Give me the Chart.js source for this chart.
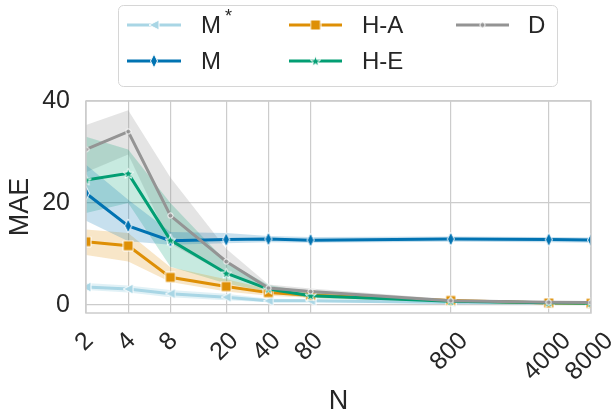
<!DOCTYPE html>
<html>
<head>
<meta charset="utf-8">
<script src="https://cdn.jsdelivr.net/npm/chart.js@4.4.1/dist/chart.umd.min.js"></script>
<style>
  html, body { margin: 0; padding: 0; background: #fff; }
  #wrap { width: 614px; height: 417px; }
</style>
</head>
<body>
<div id="wrap"><canvas id="maeChart" width="614" height="417"></canvas></div>
<script>
// sample sizes (x axis, log scale)
const nValues = [2, 4, 8, 20, 40, 80, 800, 4000, 8000];
const nLabels = ['2', '4', '8', '20', '40', '80', '800', '4000', '8000'];
const yTicks = [0, 20, 40];

// mean MAE per method and its confidence band
const mStarMean = [3.5, 3.1, 2.2, 1.5, 0.8, 0.8, 0.45, 0.35, 0.35];
const mStarLow  = [2.9, 2.4, 1.5, 0.9, 0.5, 0.5, 0.3, 0.25, 0.25];
const mStarHigh = [4.3, 3.8, 2.9, 2.2, 1.2, 1.1, 0.6, 0.5, 0.5];

const mMean = [21.9, 15.5, 12.6, 12.8, 12.9, 12.7, 12.9, 12.8, 12.7];
const mLow  = [16.5, 12.5, 11.8, 12.1, 12.3, 12.2, 12.4, 12.3, 12.2];
const mHigh = [27.5, 20.6, 14.3, 14.1, 13.5, 13.3, 13.4, 13.3, 13.2];

const haMean = [12.4, 11.6, 5.4, 3.6, 2.4, 1.9, 0.85, 0.35, 0.3];
const haLow  = [9.8, 8.5, 4.5, 2.6, 1.8, 1.4, 0.6, 0.2, 0.15];
const haHigh = [14.8, 14.1, 7.4, 5.0, 3.1, 2.4, 1.1, 0.5, 0.45];

const heMean = [24.5, 25.8, 12.7, 6.2, 3.1, 1.8, 0.7, 0.4, 0.3];
const heLow  = [18, 20, 7.5, 4.2, 2.5, 1.3, 0.4, 0.2, 0.1];
const heHigh = [33, 30.5, 20, 8.5, 3.9, 2.4, 1.0, 0.6, 0.5];

const dMean = [30.5, 34.0, 17.5, 8.5, 3.3, 2.6, 0.8, 0.5, 0.45];
const dLow  = [26, 29.5, 12, 6, 2.8, 2.0, 0.5, 0.3, 0.3];
const dHigh = [35.3, 38.2, 25, 11, 4.0, 3.2, 1.1, 0.7, 0.6];

const FONT = "'Liberation Sans', Arial, sans-serif";
const TEXT = '#262626';
const GRID = '#cccccc';

// marker images with white edge, like matplotlib markers
function makeMarker(kind, color) {
    const c = document.createElement('canvas');
    const g = c.getContext('2d');
    let w = 12, h = 12;
    if (kind === 'diamond') { w = 10; h = 16; }
    if (kind === 'circle') { w = 7; h = 7; }
    if (kind === 'star') { w = 13; h = 13; }
    c.width = w; c.height = h;
    g.beginPath();
    if (kind === 'triLeft') {
        g.moveTo(1, h / 2); g.lineTo(w - 1, 1); g.lineTo(w - 1, h - 1);
    } else if (kind === 'diamond') {
        g.moveTo(w / 2, 1); g.lineTo(w - 1.5, h / 2); g.lineTo(w / 2, h - 1); g.lineTo(1.5, h / 2);
    } else if (kind === 'square') {
        g.rect(1, 1, w - 2, h - 2);
    } else if (kind === 'circle') {
        g.arc(w / 2, h / 2, 2.6, 0, Math.PI * 2);
    } else if (kind === 'star') {
        const cx = w / 2, cy = h / 2 + 0.5, ro = 5.5, ri = 2.3;
        for (let k = 0; k < 10; k++) {
            const r = k % 2 === 0 ? ro : ri;
            const a = -Math.PI / 2 + k * Math.PI / 5;
            const px = cx + r * Math.cos(a), py = cy + r * Math.sin(a);
            if (k === 0) g.moveTo(px, py); else g.lineTo(px, py);
        }
    }
    g.closePath();
    g.fillStyle = color;
    g.fill();
    g.strokeStyle = '#ffffff';
    g.lineWidth = 1;
    g.stroke();
    return c;
}

const series = [
    { name: 'M*',  color: '#a9d6e5', band: 'rgba(169,214,229,0.35)', mean: mStarMean, low: mStarLow, high: mStarHigh, marker: 'triLeft', order: 4 },
    { name: 'M',   color: '#0173b2', band: 'rgba(1,115,178,0.22)',   mean: mMean,     low: mLow,     high: mHigh,     marker: 'diamond', order: 3 },
    { name: 'H-A', color: '#de8f05', band: 'rgba(222,143,5,0.22)',   mean: haMean,    low: haLow,    high: haHigh,    marker: 'square',  order: 2 },
    { name: 'H-E', color: '#029e73', band: 'rgba(2,158,115,0.22)',   mean: heMean,    low: heLow,    high: heHigh,    marker: 'star',    order: 1 },
    { name: 'D',   color: '#949494', band: 'rgba(148,148,148,0.25)', mean: dMean,     low: dLow,     high: dHigh,     marker: 'circle',  order: 0 }
];
series.forEach(s => { s.img = makeMarker(s.marker, s.color); });

function toPoints(arr) {
    return arr.map((v, i) => ({ x: nValues[i], y: v }));
}

const datasets = [];
series.forEach(s => {
    datasets.push({
        data: toPoints(s.high), fill: '+1', backgroundColor: s.band,
        borderColor: 'transparent', borderWidth: 0, pointRadius: 0, order: 10
    });
    datasets.push({
        data: toPoints(s.low), fill: false,
        borderColor: 'transparent', borderWidth: 0, pointRadius: 0, order: 10
    });
});
series.forEach(s => {
    datasets.push({
        label: s.name, data: toPoints(s.mean), fill: false,
        borderColor: s.color, borderWidth: 3, tension: 0,
        pointStyle: s.img, pointRadius: 5, order: s.order
    });
});

// chart frame drawn over the data, like the seaborn spines
const framePlugin = {
    id: 'frame',
    afterDatasetsDraw(chart) {
        const { ctx, chartArea: a } = chart;
        ctx.save();
        ctx.strokeStyle = GRID;
        ctx.lineWidth = 1.5;
        ctx.strokeRect(a.left, a.top, a.right - a.left, a.bottom - a.top);
        ctx.restore();
    }
};

// rotated x tick labels centred under each tick
const xLabelPlugin = {
    id: 'xLabels',
    afterDraw(chart) {
        const ctx = chart.ctx;
        const xs = chart.scales.x;
        ctx.save();
        ctx.font = '25px ' + FONT;
        ctx.fillStyle = TEXT;
        ctx.textAlign = 'center';
        ctx.textBaseline = 'middle';
        nValues.forEach((v, i) => {
            const w = ctx.measureText(nLabels[i]).width;
            const px = xs.getPixelForValue(v) - 1.5;
            const py = chart.chartArea.bottom + 24 + w * 0.3535;
            ctx.save();
            ctx.translate(px, py);
            ctx.rotate(-Math.PI / 4);
            ctx.fillText(nLabels[i], 0, 0);
            ctx.restore();
        });
        ctx.restore();
    }
};

// framed legend, three columns filled column by column
const legendPlugin = {
    id: 'boxLegend',
    afterDraw(chart) {
        const ctx = chart.ctx;
        const cols = [
            { x0: 127, x1: 181, tx: 201 },
            { x0: 289, x1: 342, tx: 362 },
            { x0: 456, x1: 509, tx: 528 }
        ];
        const rows = [25, 61];
        ctx.save();
        ctx.beginPath();
        ctx.roundRect(118.5, 5.5, 439, 81, 5);
        ctx.fillStyle = 'rgba(255,255,255,0.8)';
        ctx.fill();
        ctx.strokeStyle = '#d6d6d6';
        ctx.lineWidth = 1;
        ctx.stroke();
        series.forEach((s, i) => {
            const col = cols[Math.floor(i / 2)];
            const y = rows[i % 2];
            ctx.beginPath();
            ctx.moveTo(col.x0, y);
            ctx.lineTo(col.x1, y);
            ctx.strokeStyle = s.color;
            ctx.lineWidth = 3;
            ctx.stroke();
            const mx = (col.x0 + col.x1) / 2;
            ctx.drawImage(s.img, mx - s.img.width / 2, y - s.img.height / 2);
            ctx.fillStyle = TEXT;
            ctx.textAlign = 'left';
            ctx.textBaseline = 'middle';
            ctx.font = '24px ' + FONT;
            if (s.name === 'M*') {
                ctx.fillText('M', col.tx, y + 1);
                const w = ctx.measureText('M').width;
                ctx.font = '18px ' + FONT;
                ctx.fillText('*', col.tx + w + 4, y - 8);
            } else {
                ctx.fillText(s.name, col.tx, y + 1);
            }
        });
        ctx.restore();
    }
};

const ctx = document.getElementById('maeChart').getContext('2d');
new Chart(ctx, {
    type: 'line',
    data: { datasets: datasets },
    options: {
        responsive: false,
        animation: false,
        layout: { padding: { top: 101, right: 23, left: 0, bottom: 0 } },
        plugins: {
            legend: { display: false },
            tooltip: { enabled: false },
            filler: { drawTime: 'beforeDatasetsDraw' }
        },
        scales: {
            x: {
                type: 'logarithmic',
                min: 2,
                max: 8000,
                afterBuildTicks: (scale) => { scale.ticks = nValues.map(v => ({ value: v })); },
                afterFit: (scale) => { scale.height = 104; },
                ticks: { display: false },
                grid: { color: GRID, lineWidth: 1.2, drawTicks: false },
                border: { display: false },
                title: {
                    display: true, text: 'N', color: TEXT,
                    font: { family: FONT, size: 27, lineHeight: 1 },
                    padding: { top: 0, bottom: 2 }
                }
            },
            y: {
                min: -1.6,
                max: 40,
                afterBuildTicks: (scale) => { scale.ticks = yTicks.map(v => ({ value: v })); },
                afterFit: (scale) => { scale.width = 86; },
                ticks: {
                    color: TEXT, padding: 16,
                    font: { family: FONT, size: 25 },
                    callback: (v) => String(v)
                },
                grid: { color: GRID, lineWidth: 1.2, drawTicks: false },
                border: { display: false },
                title: {
                    display: true, text: 'MAE', color: TEXT,
                    font: { family: FONT, size: 27, lineHeight: 1 },
                    padding: { top: 7, bottom: 0 }
                }
            }
        }
    },
    plugins: [framePlugin, xLabelPlugin, legendPlugin]
});
</script>
</body>
</html>
